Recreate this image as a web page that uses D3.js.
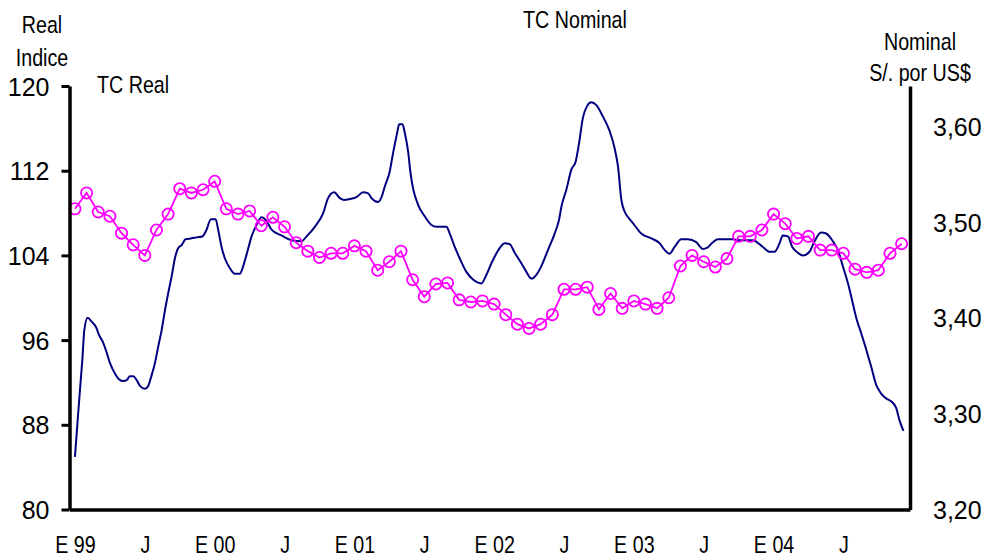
<!DOCTYPE html>
<html>
<head>
<meta charset="utf-8">
<script src="https://cdn.jsdelivr.net/npm/d3@7"></script>
<style>
  html, body { margin: 0; padding: 0; background: #fff; }
  svg { display: block; }
  .narrow { font-family: 'Liberation Sans', Arial, sans-serif; font-size: 24px; fill: #000; }
  .num { font-family: 'Liberation Sans', Arial, sans-serif; font-size: 25px; fill: #000; }
</style>
</head>
<body>
<svg id="chart" width="983" height="558"></svg>
<script>
// ---- Data ----
const xTickMonths = [0, 6, 12, 18, 24, 30, 36, 42, 48, 54, 60, 66];
const xTickLabels = ["E 99", "J", "E 00", "J", "E 01", "J", "E 02", "J", "E 03", "J", "E 04", "J"];
const leftTicks = [80, 88, 96, 104, 112, 120];
const rightTicks = [3.2, 3.3, 3.4, 3.5, 3.6];

// TC Real (monthly index, Jan 1999 - Dec 2004)
const realIndex = [
  108.4, 109.9, 108.1, 107.7, 106.1, 105.0, 104.0, 106.4, 107.9, 110.3, 109.9, 110.2,
  111.0, 108.4, 107.9, 108.2, 106.8, 107.6, 106.7, 105.2, 104.4, 103.8, 104.2, 104.2,
  104.9, 104.4, 102.6, 103.4, 104.4, 101.7, 100.1, 101.3, 101.4, 99.8, 99.6, 99.7,
  99.4, 98.4, 97.5, 97.1, 97.5, 98.4, 100.8, 100.8, 101.0, 98.9, 100.4, 99.0,
  99.7, 99.4, 99.0, 100.0, 103.0, 104.0, 103.4, 102.9, 103.7, 105.8, 105.8, 106.4,
  107.9, 107.0, 105.6, 105.8, 104.5, 104.5, 104.2, 102.7, 102.4, 102.6, 104.2, 105.1
];

// TC Nominal (S/. por US$), time in months since Jan 1999
const nomT = [
  0, 0.23, 0.43, 0.63, 0.80, 1.09, 1.43, 1.86, 2.00, 2.43, 2.72, 3.00, 3.43, 3.78, 4.15, 4.44, 4.72, 5.00, 5.30, 5.58,
  6.01, 6.29, 6.58, 6.87, 7.15, 7.44, 7.73, 8.01, 8.30, 8.58, 8.87, 9.16, 9.50, 10.02, 10.45, 10.93, 11.30, 11.67, 12.08, 12.30,
  12.59, 12.88, 13.30, 13.73, 14.16, 14.45, 14.74, 15.17, 15.60, 16.03, 16.45, 16.88, 17.73, 18.60, 19.46, 19.89, 20.60, 21.31, 21.74, 22.26,
  22.75, 23.12, 23.61, 24.18, 24.75, 25.18, 25.47, 26.03, 26.33, 26.61, 27.04, 27.32, 27.67, 27.84, 28.13, 28.33, 28.61, 28.82, 29.04, 29.47,
  30.04, 30.62, 31.05, 31.90, 32.19, 32.62, 33.05, 33.62, 34.19, 34.91, 35.34, 35.77, 36.33, 36.91, 37.34, 37.77, 38.34, 38.77, 39.20, 39.63,
  40.06, 40.63, 41.20, 41.57, 41.78, 42.21, 42.64, 43.00, 43.29, 43.63, 43.98, 44.35, 44.78, 45.35, 45.92, 46.35, 46.64, 46.93, 47.21, 47.58,
  47.92, 48.64, 49.50, 50.21, 50.64, 51.07, 51.50, 52.08, 52.64, 53.36, 53.93, 54.27, 54.79, 55.22, 56.51, 57.08, 58.22, 59.08, 59.66, 60.09,
  60.52, 60.80, 61.23, 61.61, 62.09, 62.52, 63.09, 63.52, 64.09, 64.52, 65.09, 65.52, 65.95, 66.46, 66.81, 67.15, 67.53, 67.96, 68.39, 68.82,
  69.24, 69.67, 70.10, 70.53, 70.82, 71.16
];
const nomV = [
  3.255, 3.293, 3.325, 3.356, 3.387, 3.400, 3.396, 3.389, 3.384, 3.374, 3.364, 3.353, 3.342, 3.336, 3.334, 3.335, 3.339, 3.339, 3.335, 3.329,
  3.326, 3.329, 3.340, 3.353, 3.370, 3.387, 3.408, 3.426, 3.443, 3.462, 3.473, 3.476, 3.482, 3.483, 3.484, 3.485, 3.492, 3.503, 3.503, 3.492,
  3.474, 3.462, 3.452, 3.446, 3.446, 3.454, 3.466, 3.485, 3.497, 3.505, 3.501, 3.492, 3.486, 3.481, 3.480, 3.485, 3.495, 3.509, 3.525, 3.531,
  3.525, 3.523, 3.524, 3.526, 3.531, 3.530, 3.525, 3.521, 3.526, 3.537, 3.553, 3.572, 3.593, 3.602, 3.602, 3.593, 3.574, 3.551, 3.535, 3.518,
  3.506, 3.497, 3.495, 3.495, 3.488, 3.474, 3.462, 3.448, 3.440, 3.436, 3.445, 3.457, 3.470, 3.478, 3.477, 3.468, 3.457, 3.448, 3.441, 3.445,
  3.454, 3.471, 3.488, 3.502, 3.516, 3.534, 3.555, 3.563, 3.582, 3.609, 3.621, 3.625, 3.622, 3.610, 3.595, 3.577, 3.558, 3.523, 3.511, 3.504,
  3.499, 3.488, 3.483, 3.478, 3.471, 3.467, 3.474, 3.482, 3.482, 3.479, 3.472, 3.473, 3.479, 3.482, 3.482, 3.481, 3.481, 3.474, 3.469, 3.469,
  3.478, 3.486, 3.485, 3.474, 3.468, 3.465, 3.469, 3.480, 3.489, 3.488, 3.480, 3.471, 3.454, 3.433, 3.415, 3.398, 3.384, 3.367, 3.349, 3.330,
  3.321, 3.316, 3.313, 3.306, 3.293, 3.282
];

// ---- Chart ----
const svg = d3.select("#chart");
const plotLeft = 69.5, plotRight = 910, plotTop = 86, plotBottom = 509.5;
const narrowScale = 0.82;

const x = d3.scaleLinear().domain([-0.47, 71.72]).range([plotLeft, plotRight]);
const yL = d3.scaleLinear().domain([80, 120]).range([plotBottom, plotTop]);
const yR = d3.scaleLinear().domain([3.2, 3.642]).range([plotBottom, plotTop]);

// Nominal line
const nomData = nomT.map((t, i) => ({ t, v: nomV[i] }));
svg.append("path")
  .datum(nomData)
  .attr("fill", "none")
  .attr("stroke", "#000080")
  .attr("stroke-width", 2)
  .attr("stroke-linejoin", "round")
  .attr("d", d3.line().x(d => x(d.t)).y(d => yR(d.v)).curve(d3.curveMonotoneX));

// Real line with open circle markers
const realData = realIndex.map((v, i) => ({ m: i, v }));
svg.append("path")
  .datum(realData)
  .attr("fill", "none")
  .attr("stroke", "#FF00FF")
  .attr("stroke-width", 1.8)
  .attr("d", d3.line().x(d => x(d.m)).y(d => yL(d.v)));
svg.append("g").selectAll("circle")
  .data(realData).join("circle")
  .attr("cx", d => x(d.m))
  .attr("cy", d => yL(d.v))
  .attr("r", 5.6)
  .attr("fill", "none")
  .attr("stroke", "#FF00FF")
  .attr("stroke-width", 1.8);

// Axes
const gL = svg.append("g").attr("transform", `translate(${plotLeft},0)`)
  .call(d3.axisLeft(yL).tickValues(leftTicks).tickSize(8).tickSizeOuter(0).tickPadding(12).tickFormat(d3.format("d")));
gL.select(".domain").attr("stroke", "#000").attr("stroke-width", 3.5);
gL.selectAll(".tick line").attr("stroke", "#000").attr("stroke-width", 3);
gL.selectAll(".tick text").attr("class", "num").attr("dy", "0.36em").attr("font-size", null).attr("font-family", null);

const gR = svg.append("g").attr("transform", `translate(${plotRight},0)`)
  .call(d3.axisRight(yR).tickValues(rightTicks).tickSize(0).tickSizeOuter(0).tickPadding(23)
    .tickFormat(d => d3.format(".2f")(d).replace(".", ",")));
gR.select(".domain").attr("stroke", "#000").attr("stroke-width", 3.5);
gR.selectAll(".tick text").attr("class", "num").attr("dy", "0.36em").attr("font-size", null).attr("font-family", null);

const gB = svg.append("g").attr("transform", `translate(0,${plotBottom})`)
  .call(d3.axisBottom(x).tickValues(xTickMonths).tickSize(0).tickSizeOuter(0)
    .tickFormat((d, i) => xTickLabels[i]));
gB.select(".domain").attr("stroke", "#000").attr("stroke-width", 3.5);
gB.selectAll(".tick text")
  .attr("class", "narrow").attr("font-size", null).attr("font-family", null)
  .attr("y", null).attr("dy", null)
  .attr("transform", `translate(0,43) scale(${narrowScale},1)`);

// Titles (narrow face emulated by horizontal scaling)
function label(txt, px, py, anchor) {
  svg.append("text").attr("class", "narrow")
    .attr("transform", `translate(${px},${py}) scale(${narrowScale},1)`)
    .attr("text-anchor", anchor)
    .text(txt);
}
label("Real", 42, 33, "middle");
label("Indice", 42, 66, "middle");
label("TC Real", 97, 93, "start");
label("TC Nominal", 575, 28, "middle");
label("Nominal", 920, 50, "middle");
label("S/. por US$", 920, 81, "middle");
</script>
</body>
</html>
